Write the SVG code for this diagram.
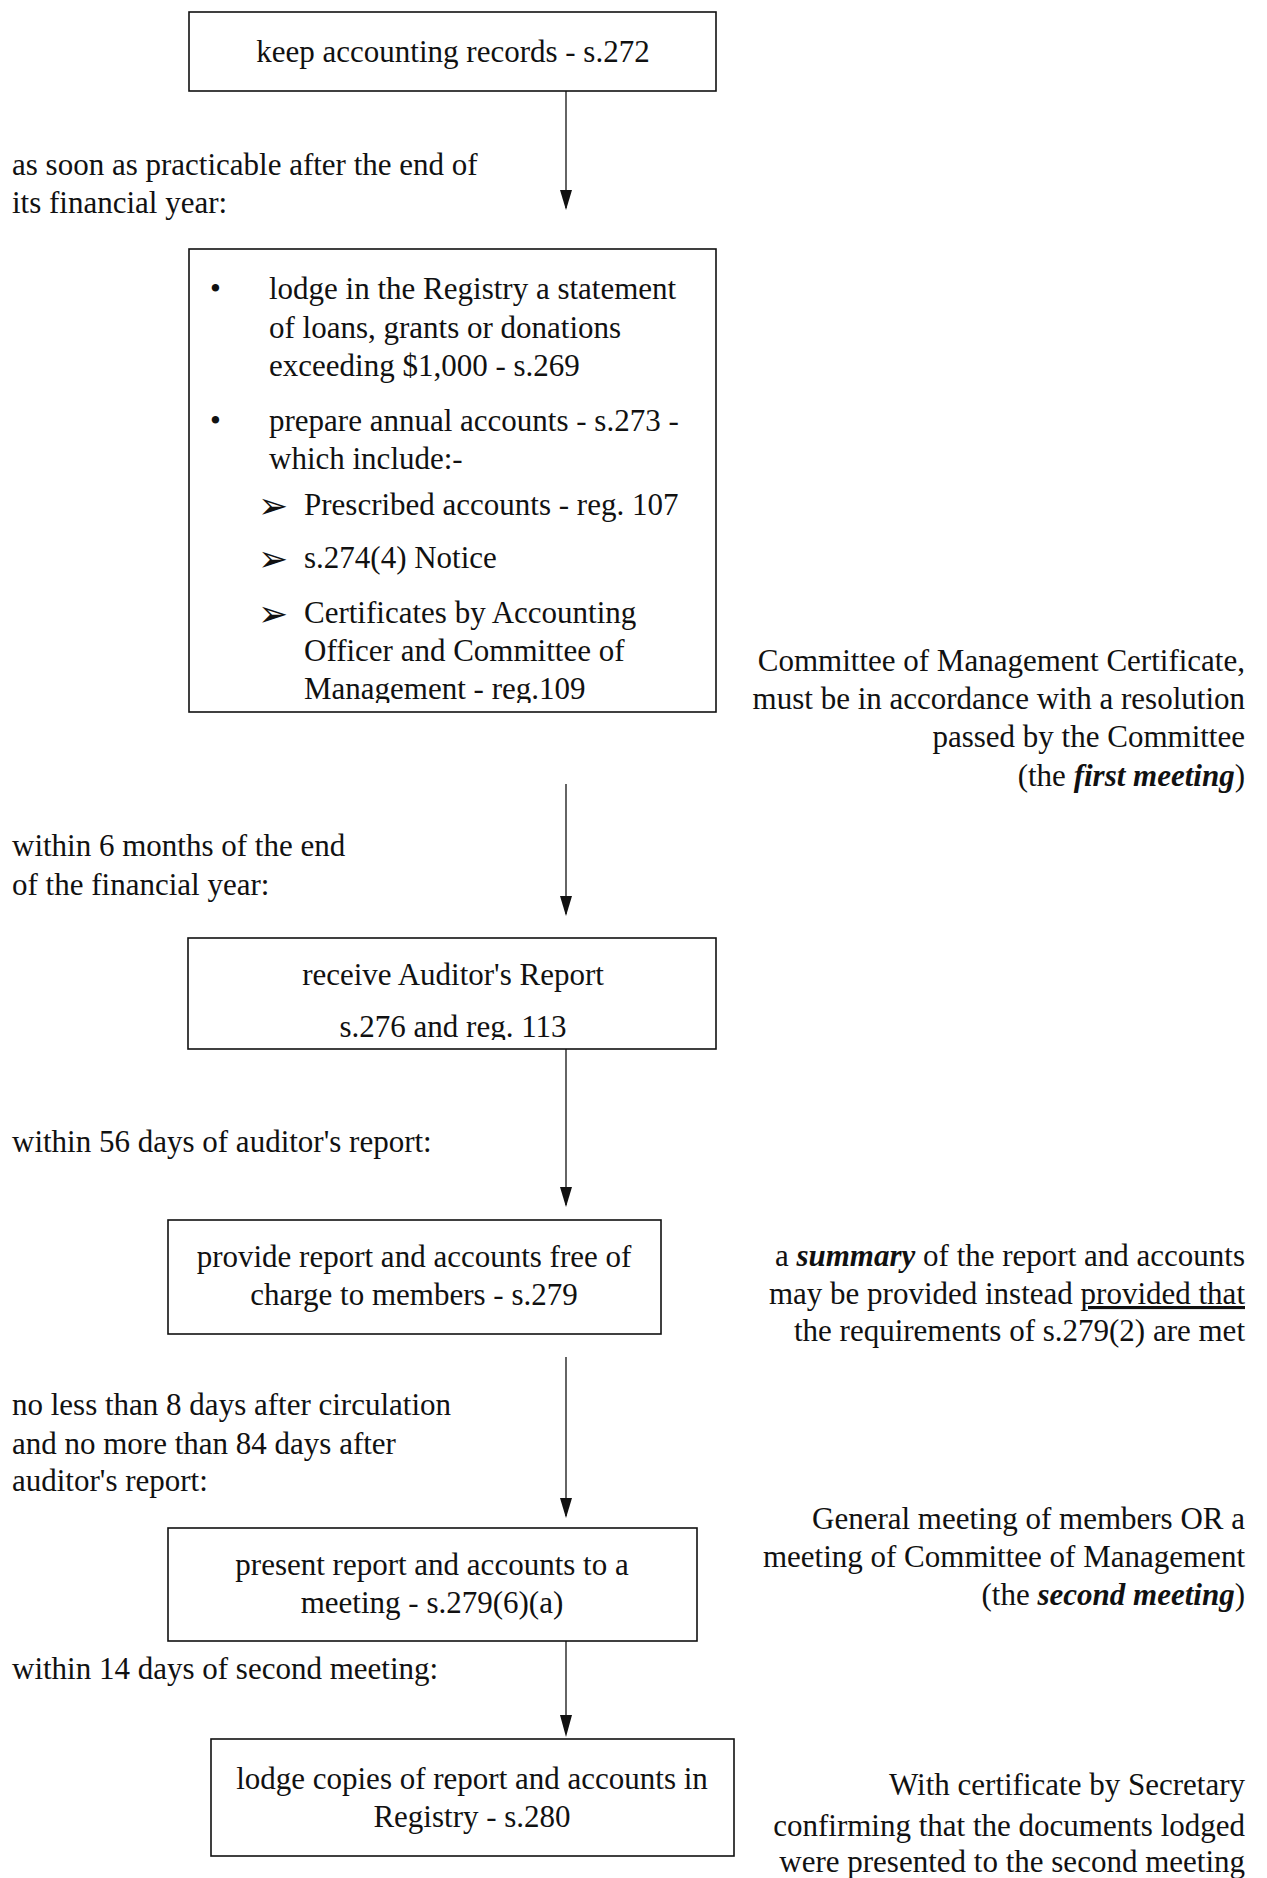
<svg xmlns="http://www.w3.org/2000/svg" width="1267" height="1878" viewBox="0 0 1267 1878">
<style>
text{font-family:"Liberation Serif","Times New Roman",serif;font-size:31px;fill:#111}
.c{text-anchor:middle}
.r{text-anchor:end}
.box{fill:#fff;stroke:#111;stroke-width:1.6}
.conn{stroke:#111;stroke-width:1.3;fill:none}
.dg{font-family:"DejaVu Sans",sans-serif;font-size:36px}
</style>
<defs>
<clipPath id="cb2"><rect x="189" y="249" width="527" height="454"/></clipPath>
<clipPath id="cb3"><rect x="188" y="938" width="528" height="102"/></clipPath>
</defs>
<rect width="1267" height="1878" fill="#fff"/>

<g id="connectors">
<path class="conn" d="M566,91 V208"/><path d="M560,190 L572,190 L566,210 Z" fill="#111"/>
<path class="conn" d="M566,784 V914"/><path d="M560,896 L572,896 L566,916 Z" fill="#111"/>
<path class="conn" d="M566,1049 V1205"/><path d="M560,1187 L572,1187 L566,1207 Z" fill="#111"/>
<path class="conn" d="M566,1357 V1516"/><path d="M560,1498 L572,1498 L566,1518 Z" fill="#111"/>
<path class="conn" d="M566,1641 V1733"/><path d="M560,1715 L572,1715 L566,1737 Z" fill="#111"/>
</g>

<g id="n1">
<rect class="box" x="189" y="12" width="527" height="79"/>
<text class="c" x="453" y="62">keep accounting records - s.272</text>
</g>

<g id="lbl1">
<text x="12" y="175">as soon as practicable after the end of</text>
<text x="12" y="213">its financial year:</text>
</g>

<g id="n2">
<rect class="box" x="189" y="249" width="527" height="463"/>
<g clip-path="url(#cb2)">
<text x="210" y="299">•</text>
<text x="269" y="299">lodge in the Registry a statement</text>
<text x="269" y="338">of loans, grants or donations</text>
<text x="269" y="376">exceeding $1,000 - s.269</text>
<text x="210" y="431">•</text>
<text x="269" y="431">prepare annual accounts - s.273 -</text>
<text x="269" y="469">which include:-</text>
<text class="dg" x="258" y="518">➢</text>
<text x="304" y="515">Prescribed accounts - reg. 107</text>
<text class="dg" x="258" y="571">➢</text>
<text x="304" y="568">s.274(4) Notice</text>
<text class="dg" x="258" y="626">➢</text>
<text x="304" y="623">Certificates by Accounting</text>
<text x="304" y="661">Officer and Committee of</text>
<text x="304" y="699">Management - reg.109</text>
</g>
</g>

<g id="note1">
<text class="r" x="1245" y="671">Committee of Management Certificate,</text>
<text class="r" x="1245" y="709">must be in accordance with a resolution</text>
<text class="r" x="1245" y="747">passed by the Committee</text>
<text class="r" x="1245" y="786">(the <tspan font-style="italic" font-weight="bold">first meeting</tspan>)</text>
</g>

<g id="lbl2">
<text x="12" y="856">within 6 months of the end</text>
<text x="12" y="895">of the financial year:</text>
</g>

<g id="n3">
<rect class="box" x="188" y="938" width="528" height="111"/>
<g clip-path="url(#cb3)">
<text class="c" x="453" y="985">receive Auditor's Report</text>
<text class="c" x="453" y="1037">s.276 and reg. 113</text>
</g>
</g>

<g id="lbl3">
<text x="12" y="1152">within 56 days of auditor's report:</text>
</g>

<g id="n4">
<rect class="box" x="168" y="1220" width="493" height="114"/>
<text class="c" x="414" y="1267">provide report and accounts free of</text>
<text class="c" x="414" y="1305">charge to members - s.279</text>
</g>

<g id="note2">
<text class="r" x="1245" y="1266">a <tspan font-style="italic" font-weight="bold">summary</tspan> of the report and accounts</text>
<text class="r" x="1245" y="1304">may be provided instead <tspan text-decoration="underline">provided that</tspan></text>
<text class="r" x="1245" y="1341">the requirements of s.279(2) are met</text>
</g>

<g id="lbl4">
<text x="12" y="1415">no less than 8 days after circulation</text>
<text x="12" y="1454">and no more than 84 days after</text>
<text x="12" y="1491">auditor's report:</text>
</g>

<g id="n5">
<rect class="box" x="168" y="1528" width="529" height="113"/>
<text class="c" x="432" y="1575">present report and accounts to a</text>
<text class="c" x="432" y="1613">meeting - s.279(6)(a)</text>
</g>

<g id="note3">
<text class="r" x="1245" y="1529">General meeting of members OR a</text>
<text class="r" x="1245" y="1567">meeting of Committee of Management</text>
<text class="r" x="1245" y="1605">(the <tspan font-style="italic" font-weight="bold">second meeting</tspan>)</text>
</g>

<g id="lbl5">
<text x="12" y="1679">within 14 days of second meeting:</text>
</g>

<g id="n6">
<rect class="box" x="211" y="1739" width="523" height="117"/>
<text class="c" x="472" y="1789">lodge copies of report and accounts in</text>
<text class="c" x="472" y="1827">Registry - s.280</text>
</g>

<g id="note4">
<text class="r" x="1245" y="1795">With certificate by Secretary</text>
<text class="r" x="1245" y="1836">confirming that the documents lodged</text>
<text class="r" x="1245" y="1872">were presented to the second meeting</text>
</g>
</svg>
